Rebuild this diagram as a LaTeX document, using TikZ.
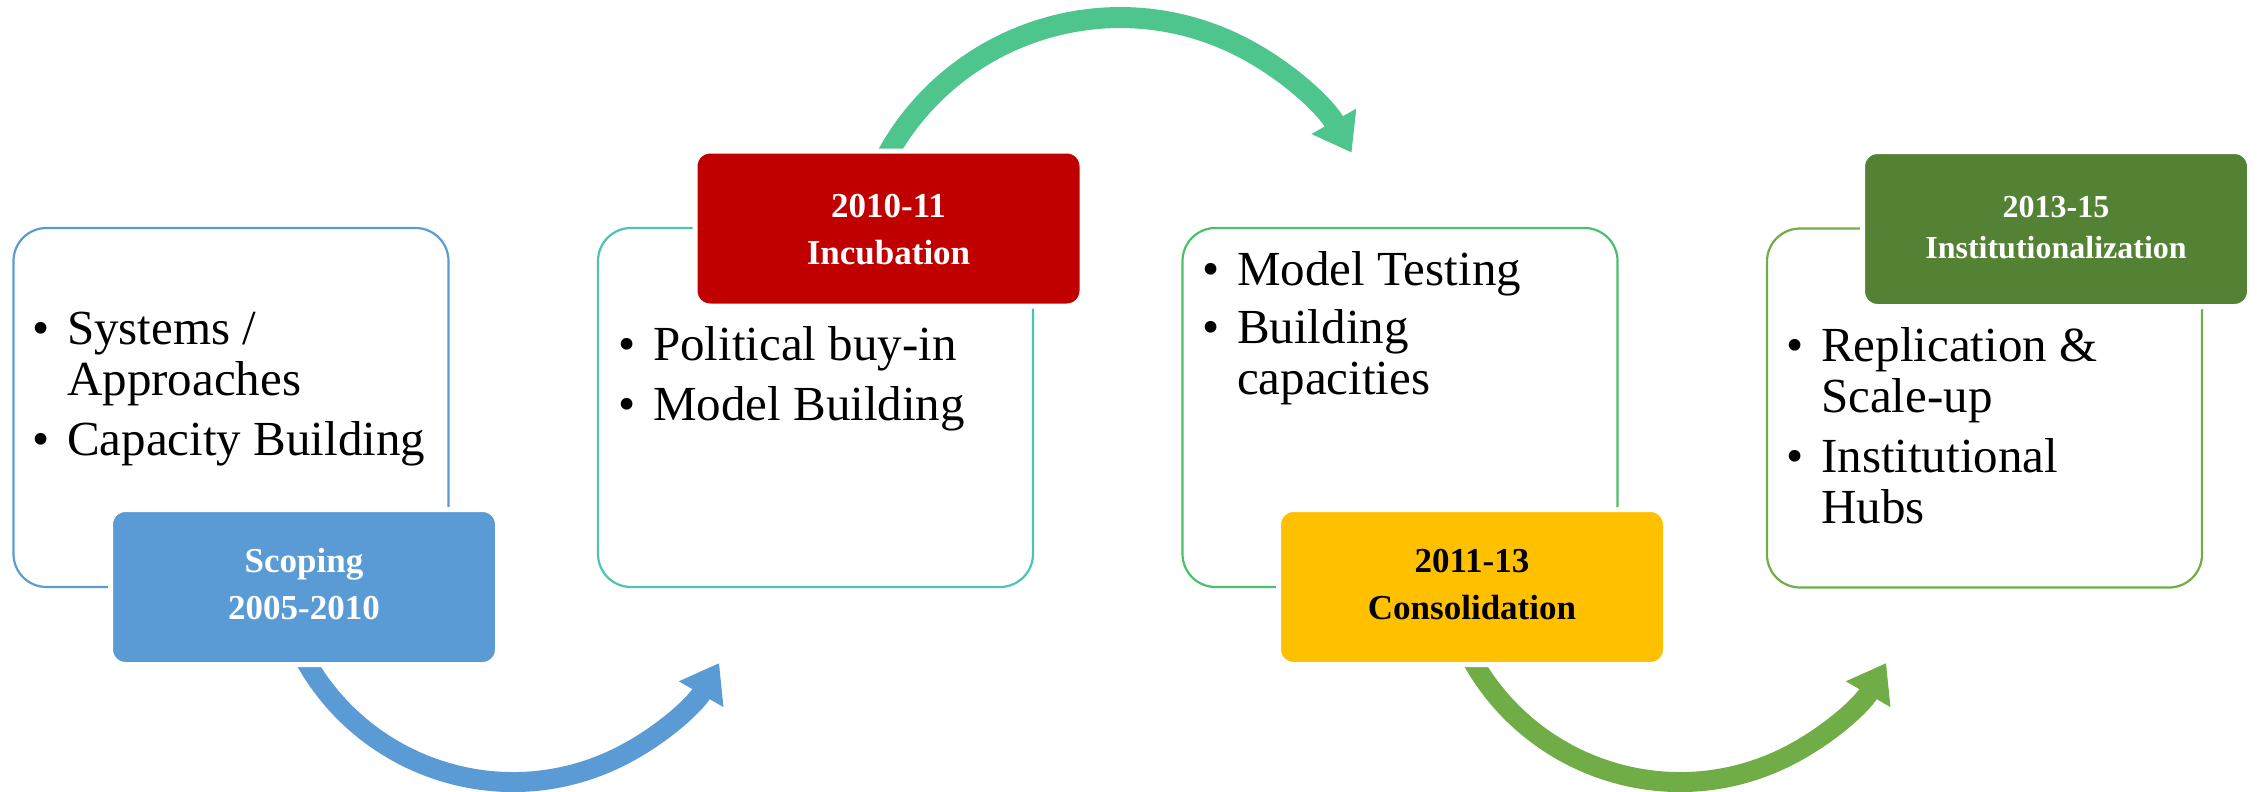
\documentclass[tikz,border=0pt]{standalone}
\usepackage{fontspec}
\setmainfont{Liberation Serif}
\usetikzlibrary{arrows.meta}
\definecolor{cblue}{HTML}{5B9BD5}
\definecolor{cteal}{HTML}{4EC3AD}
\definecolor{cgreenA}{HTML}{4CBF6B}
\definecolor{cgreen}{HTML}{70AD47}
\definecolor{carrow}{HTML}{4FC58E}
\definecolor{cred}{HTML}{C00000}
\definecolor{cyellow}{HTML}{FFC000}
\definecolor{cdkgreen}{HTML}{548235}
\newcommand\bulfont{\fontsize{49}{51}\selectfont}
\newcommand\headfont{\fontsize{35}{47}\selectfont\bfseries}
\newcommand\headfontsmall{\fontsize{32}{41}\selectfont\bfseries}
\newcommand\bul{\llap{\textbullet\hspace{18pt}}}
\begin{document}
\begin{tikzpicture}[x=1pt,y=-1pt,
  obox/.style={draw, line width=2.2pt, rounded corners=33pt, minimum width=435pt, minimum height=359pt, inner sep=0pt},
  hbox/.style={draw=white, line width=5pt, rounded corners=15pt, minimum width=387pt, minimum height=155pt, inner sep=0pt},
  bultext/.style={anchor=base west, inner sep=0pt, font=\bulfont, text=black},
  hd/.style={anchor=base, inner sep=0pt, font=\headfont, text=white},
  carc/.style={line width=20pt, -{Triangle[length=36pt,width=49pt]}}
]
\useasboundingbox (0,0) rectangle (2257,792);

% curved arrows (behind boxes)
\coordinate (a1s) at (297.3,644.6);
\coordinate (a2s) at (881,167);
\coordinate (a3s) at (1464.3,644.6);
\draw[carc, draw=cblue] (a1s) arc[start angle=-205, end angle=-330, radius=238];
\draw[carc, draw=carrow, line width=21pt] (a2s) arc[start angle=-154, end angle=-29.5, radius=266];
\draw[carc, draw=cgreen] (a3s) arc[start angle=-205, end angle=-330, radius=238];

% outline boxes
\node[obox, draw=cblue] (b1) at (231,407.5) {};
\node[obox, draw=cteal] (b2) at (815.5,407.5) {};
\node[obox, draw=cgreenA] (b3) at (1400,407.5) {};
\node[obox, draw=cgreen] (b4) at (1984.5,408) {};

% filled header boxes
\node[hbox, fill=cblue] (h1) at (304,587) {};
\node[hbox, fill=cred] (h2) at (888.5,228.5) {};
\node[hbox, fill=cyellow] (h3) at (1472,587) {};
\node[hbox, fill=cdkgreen] (h4) at (2056,229) {};

% header texts
\node[hd] (l1) at (304,572) {\begin{tabular}[t]{@{}c@{}}Scoping\\2005-2010\end{tabular}};
\node[hd] (l2) at (888.5,217) {\begin{tabular}[t]{@{}c@{}}2010-11\\Incubation\end{tabular}};
\node[hd, text=black] (l3) at (1472,572) {\begin{tabular}[t]{@{}c@{}}2011-13\\Consolidation\end{tabular}};
\node[hd, font=\headfontsmall] (l4) at (2056,217) {\begin{tabular}[t]{@{}c@{}}2013-15\\Institutionalization\end{tabular}};

% bullet texts
\node[bultext] (t1) at (67,344) {\begin{tabular}[t]{@{}l@{}}\bul Systems /\\Approaches\\[9pt]\bul Capacity Building\end{tabular}};
\node[bultext] (t2) at (653,360) {\begin{tabular}[t]{@{}l@{}}\bul Political buy-in\\[9pt]\bul Model Building\end{tabular}};
\node[bultext] (t3) at (1237,285) {\begin{tabular}[t]{@{}l@{}}\bul Model Testing\\[7pt]\bul Building\\capacities\end{tabular}};
\node[bultext] (t4) at (1821,361) {\begin{tabular}[t]{@{}l@{}}\bul Replication \&\\Scale-up\\[9pt]\bul Institutional\\Hubs\end{tabular}};
\end{tikzpicture}
\end{document}
